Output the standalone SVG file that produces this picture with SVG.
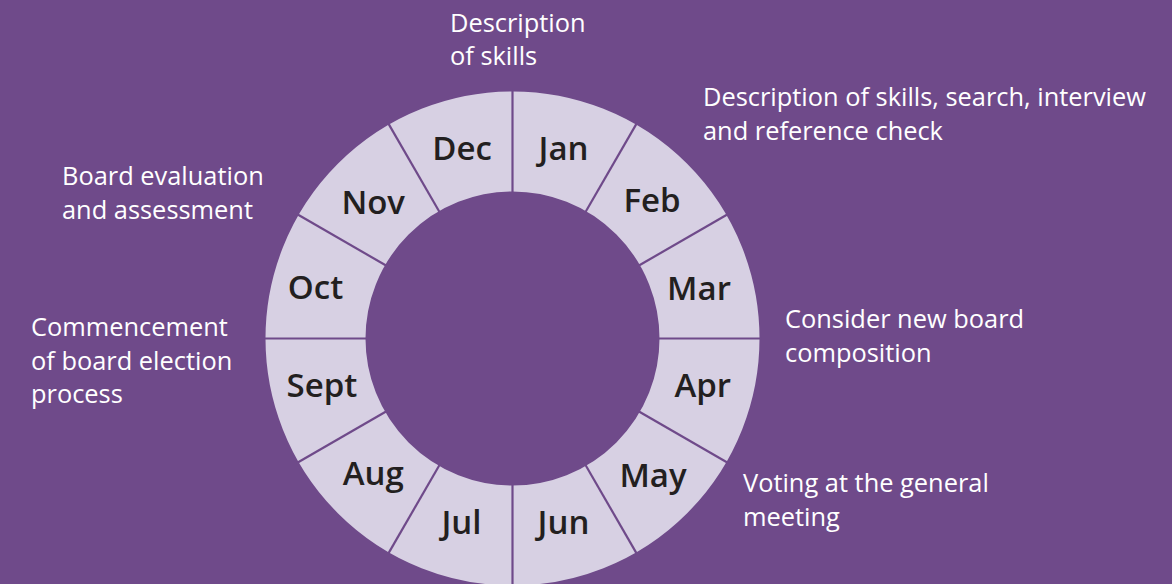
<svg xmlns="http://www.w3.org/2000/svg" width="1172" height="584" viewBox="0 0 1172 584">
<style>
.bg{fill:#6f4a8a}
.ring{fill:none;stroke:#d7d0e3;stroke-width:100}
.div{stroke:#6f4a8a;stroke-width:2.2}
.m{font-family:"Open Sans","Noto Sans","Liberation Sans",sans-serif;font-size:33px;font-weight:600;fill:#231f20;text-anchor:middle}
.n{font-family:"Open Sans","Noto Sans","Liberation Sans",sans-serif;font-size:25.4px;fill:#ffffff}
</style>
<rect class="bg" x="0" y="0" width="1172" height="584"/>
<g id="ring">
<circle class="ring" cx="512.5" cy="338.5" r="197"/>
</g>
<g id="connectors" transform="translate(512.5 338.5)">
<line class="div" x1="0" y1="-146" x2="0" y2="-249" transform="rotate(0)"/>
<line class="div" x1="0" y1="-146" x2="0" y2="-249" transform="rotate(30)"/>
<line class="div" x1="0" y1="-146" x2="0" y2="-249" transform="rotate(60)"/>
<line class="div" x1="0" y1="-146" x2="0" y2="-249" transform="rotate(90)"/>
<line class="div" x1="0" y1="-146" x2="0" y2="-249" transform="rotate(120)"/>
<line class="div" x1="0" y1="-146" x2="0" y2="-249" transform="rotate(150)"/>
<line class="div" x1="0" y1="-146" x2="0" y2="-249" transform="rotate(180)"/>
<line class="div" x1="0" y1="-146" x2="0" y2="-249" transform="rotate(210)"/>
<line class="div" x1="0" y1="-146" x2="0" y2="-249" transform="rotate(240)"/>
<line class="div" x1="0" y1="-146" x2="0" y2="-249" transform="rotate(270)"/>
<line class="div" x1="0" y1="-146" x2="0" y2="-249" transform="rotate(300)"/>
<line class="div" x1="0" y1="-146" x2="0" y2="-249" transform="rotate(330)"/>
</g>
<g id="jan"><text class="m" x="563.5" y="160">Jan</text></g>
<g id="feb"><text class="m" x="652" y="212">Feb</text></g>
<g id="mar"><text class="m" x="699" y="300">Mar</text></g>
<g id="apr"><text class="m" x="702.8" y="396.5">Apr</text></g>
<g id="may"><text class="m" x="653" y="486.5">May</text></g>
<g id="jun"><text class="m" x="563.5" y="533.5">Jun</text></g>
<g id="jul"><text class="m" x="461.5" y="533.5">Jul</text></g>
<g id="aug"><text class="m" x="373.2" y="484.5">Aug</text></g>
<g id="sept"><text class="m" x="322" y="396.5">Sept</text></g>
<g id="oct"><text class="m" x="315.5" y="298.5">Oct</text></g>
<g id="nov"><text class="m" x="373.2" y="213.5">Nov</text></g>
<g id="dec"><text class="m" x="462" y="160">Dec</text></g>
<g id="note-dec"><text class="n" x="450" y="31.5">Description</text><text class="n" x="450" y="65">of skills</text></g>
<g id="note-jan"><text class="n" x="703" y="106">Description of skills, search, interview</text><text class="n" x="703" y="139.5">and reference check</text></g>
<g id="note-nov"><text class="n" x="62" y="185">Board evaluation</text><text class="n" x="62" y="218.5">and assessment</text></g>
<g id="note-sept"><text class="n" x="31" y="336">Commencement</text><text class="n" x="31" y="369.5">of board election</text><text class="n" x="31" y="403">process</text></g>
<g id="note-mar"><text class="n" x="785" y="328">Consider new board</text><text class="n" x="785" y="361.5">composition</text></g>
<g id="note-may"><text class="n" x="743" y="492">Voting at the general</text><text class="n" x="743" y="525.5">meeting</text></g>
</svg>
